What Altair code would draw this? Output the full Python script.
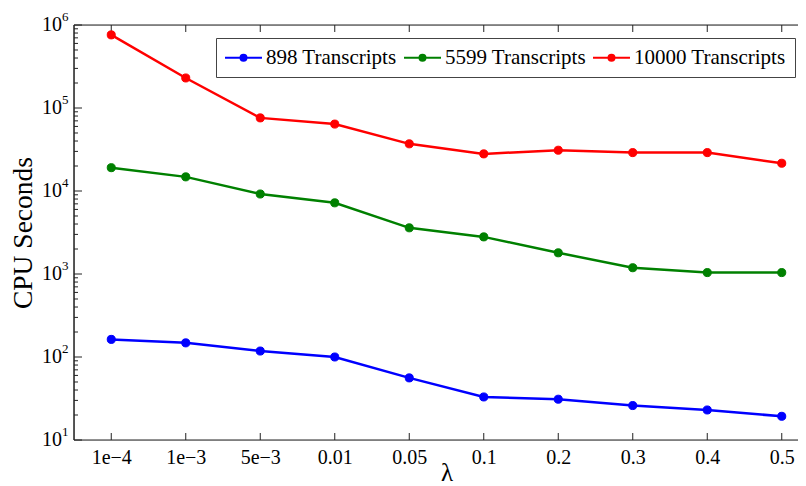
import altair as alt
import pandas as pd

lambdas = ["1e\u22124", "1e\u22123", "5e\u22123", "0.01", "0.05", "0.1", "0.2", "0.3", "0.4", "0.5"]
series_names = ["898 Transcripts", "5599 Transcripts", "10000 Transcripts"]
series_colors = ["#0000FF", "#008000", "#FF0000"]
t898 = [163, 148, 118, 100, 56, 33, 31, 26, 23, 19.3]
t5599 = [19100, 14800, 9200, 7200, 3600, 2800, 1800, 1190, 1040, 1040]
t10000 = [760000, 230000, 76000, 64000, 37000, 28000, 31000, 29000, 29000, 21600]
y_powers = [1, 2, 3, 4, 5, 6]
minor_mult = [2, 3, 4, 5, 6, 7, 8, 9]

PW = 745        # full plot width (extends past the right edge of the picture)
VW = 724        # visible view width
H = 415
FONT = "Liberation Serif"

rows = []
for name, vals in zip(series_names, [t898, t5599, t10000]):
    for lam, v in zip(lambdas, vals):
        rows.append({"lam": lam, "v": v, "series": name})
df = pd.DataFrame(rows)

major_df = pd.DataFrame({"v": [10.0 ** p for p in y_powers], "exp": [str(p) for p in y_powers]})
minor_df = pd.DataFrame({"v": [m * 10.0 ** p for p in y_powers[:-1] for m in minor_mult]})
xt_df = pd.DataFrame({"lam": lambdas})
frame_df = pd.DataFrame({"v": [10.0, 1e6]})

yscale = alt.Scale(type="log", domain=[10, 1e6], nice=False)
xscale = alt.Scale(type="point", padding=0.5, domain=lambdas, range=[0, PW])

xaxis = alt.Axis(title="\u03bb", ticks=False, domain=False, grid=False,
                 labelFont=FONT, labelFontSize=20, labelColor="black", labelPadding=7,
                 labelAngle=0, titleFont=FONT, titleFontSize=25, titleFontWeight="normal",
                 titleColor="black", titleX=PW / 2, titleY=40, titleBaseline="alphabetic")
yaxis = alt.Axis(title="CPU Seconds", labels=False, ticks=False, domain=False, grid=False,
                 titleFont=FONT, titleFontSize=27.5, titleFontWeight="normal", titleColor="black",
                 titleAngle=270, titleX=-51, titleY=H / 2, titleBaseline="middle", titleAlign="center")

def xenc():
    return alt.X("lam:N", sort=lambdas, scale=xscale, axis=xaxis)

def yenc():
    return alt.Y("v:Q", scale=yscale, axis=yaxis)

# legend symbol: a line segment with a dot, drawn wider than its nominal size
sym_path = "M-2.64,0L2.64,0M-0.43,0A0.43,0.43,0,1,0,0.43,0A0.43,0.43,0,1,0,-0.43,0Z"
legend = alt.Legend(title=None, orient="none", legendX=142, legendY=13, direction="horizontal",
                    padding=9, strokeColor="#444", fillColor="white",
                    labelFont=FONT, labelFontSize=21, labelColor="black", labelOffset=12,
                    columnPadding=3, symbolType=sym_path, symbolSize=196, symbolStrokeWidth=2,
                    symbolOffset=8, labelLimit=400)

lines = alt.Chart(df).mark_line(strokeWidth=2.5).encode(
    x=xenc(), y=yenc(),
    color=alt.Color("series:N", scale=alt.Scale(domain=series_names, range=series_colors), legend=None),
    detail="series:N",
)
points = alt.Chart(df).mark_point(filled=True, size=65, opacity=1, strokeWidth=1).encode(
    x=xenc(), y=yenc(),
    fill=alt.Fill("series:N", scale=alt.Scale(domain=series_names, range=series_colors), legend=legend),
    stroke=alt.Stroke("series:N", scale=alt.Scale(domain=series_names, range=series_colors), legend=legend),
)

tick_color = "#222"
ymaj_l = alt.Chart(major_df).mark_rule(color=tick_color).encode(y=yenc(), x=alt.value(0), x2=alt.value(8))
ymin_l = alt.Chart(minor_df).mark_rule(color=tick_color).encode(y=yenc(), x=alt.value(0), x2=alt.value(4))
ymaj_r = alt.Chart(major_df).mark_rule(color=tick_color).encode(y=yenc(), x=alt.value(PW - 8), x2=alt.value(PW))
ymin_r = alt.Chart(minor_df).mark_rule(color=tick_color).encode(y=yenc(), x=alt.value(PW - 4), x2=alt.value(PW))
xt_b = alt.Chart(xt_df).mark_rule(color=tick_color).encode(x=xenc(), y=alt.value(H), y2=alt.value(H - 7))
xt_t = alt.Chart(xt_df).mark_rule(color=tick_color).encode(x=xenc(), y=alt.value(0), y2=alt.value(7))
# frame: horizontal edges at domain ends, vertical edges at the range ends
frame_h = alt.Chart(frame_df).mark_rule(color=tick_color).encode(y=yenc(), x=alt.value(0), x2=alt.value(PW))
frame_l = alt.Chart(frame_df).mark_rule(color=tick_color).encode(
    x=alt.value(0), y=alt.value(0), y2=alt.value(H))
frame_r = alt.Chart(frame_df).mark_rule(color=tick_color).encode(
    x=alt.value(PW), y=alt.value(0), y2=alt.value(H))

ylab_base = alt.Chart(major_df).mark_text(font=FONT, fontSize=20, align="right", baseline="middle",
                                          color="black").encode(
    y=yenc(), x=alt.value(-12), text=alt.value("10"))
ylab_exp = alt.Chart(major_df).mark_text(font=FONT, fontSize=13, align="left", baseline="middle",
                                         dy=-8, color="black").encode(
    y=yenc(), x=alt.value(-12), text="exp:N")

chart = alt.layer(
    ymin_l, ymaj_l, ymin_r, ymaj_r, xt_b, xt_t, frame_h, frame_l, frame_r,
    lines, points, ylab_base, ylab_exp
).resolve_scale(color="independent").properties(
    width=VW, height=H,
    autosize=alt.AutoSizeParams(type="none"),
    padding={"left": 66, "top": 17, "right": 0, "bottom": 48},
).configure_view(stroke=None).configure(background="white")

chart.save("out.html", embed_options={"renderer": "svg", "actions": False})
